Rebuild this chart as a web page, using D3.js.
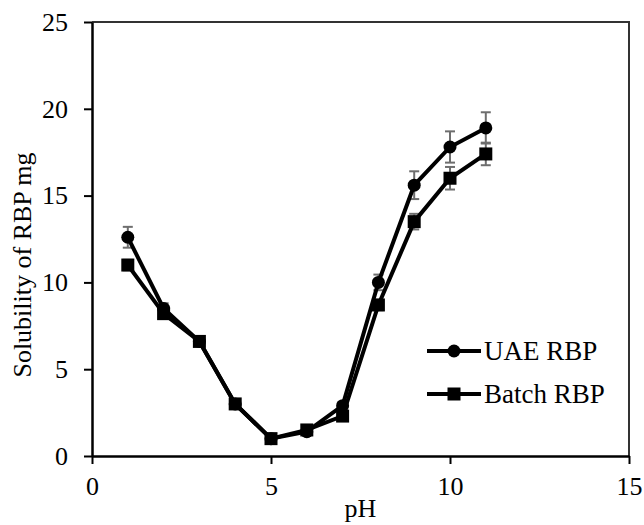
<!DOCTYPE html>
<html>
<head>
<meta charset="utf-8">
<script src="https://cdn.jsdelivr.net/npm/d3@7"></script>
<style>
  body { margin: 0; background: #fff; }
  text { font-family: "Liberation Serif", "Times New Roman", serif; fill: #000; }
</style>
</head>
<body>
<script>
'use strict';
// chart values
var phValues = [1, 2, 3, 4, 5, 6, 7, 8, 9, 10, 11];
var uaeValues = [12.6, 8.5, 6.6, 3.0, 1.0, 1.4, 2.9, 10.0, 15.6, 17.8, 18.9];
var uaeErrors = [0.6, 0.3, 0.15, 0.15, 0.1, 0.1, 0.2, 0.45, 0.8, 0.9, 0.9];
var batchValues = [11.0, 8.2, 6.6, 3.0, 1.0, 1.5, 2.3, 8.7, 13.5, 16.0, 17.4];
var batchErrors = [0.3, 0.2, 0.15, 0.15, 0.1, 0.1, 0.15, 0.3, 0.45, 0.65, 0.65];
var xTicks = [0, 5, 10, 15];
var yTicks = [0, 5, 10, 15, 20, 25];
var seriesNames = ["UAE RBP", "Batch RBP"];

var svg = d3.select("body").append("svg")
    .attr("width", 644)
    .attr("height", 525);

var margin = {top: 22, right: 15, bottom: 69, left: 92},
    width = 644 - margin.left - margin.right,
    height = 525 - margin.top - margin.bottom;

var g = svg.append("g")
    .attr("transform", "translate(" + margin.left + "," + margin.top + ")");

var x = d3.scaleLinear().domain([0, 15]).range([0, width]);
var y = d3.scaleLinear().domain([0, 25]).range([height, 0]);

// frame (top and right)
g.append("path")
    .attr("d", "M0,0H" + width + "V" + height)
    .attr("fill", "none")
    .attr("stroke", "#333")
    .attr("stroke-width", 2);

var xAxis = g.append("g")
    .attr("transform", "translate(0," + height + ")")
    .call(d3.axisBottom(x).tickValues(xTicks).tickSize(8).tickPadding(13).tickSizeOuter(0));
var yAxis = g.append("g")
    .call(d3.axisLeft(y).tickValues(yTicks).tickSize(8).tickPadding(16).tickSizeOuter(0));

[xAxis, yAxis].forEach(function(ax) {
    ax.select(".domain").attr("stroke", "#000").attr("stroke-width", 2.5);
    ax.selectAll(".tick line").attr("stroke", "#000").attr("stroke-width", 2);
    ax.selectAll(".tick text")
        .attr("font-family", "Liberation Serif, Times New Roman, serif")
        .attr("font-size", 26)
        .attr("fill", "#000");
});

// axis titles
g.append("text")
    .attr("x", width / 2)
    .attr("y", height + 61)
    .attr("text-anchor", "middle")
    .attr("font-size", 26)
    .text("pH");

svg.append("text")
    .attr("transform", "translate(31,265) rotate(-90)")
    .attr("text-anchor", "middle")
    .attr("font-size", 26)
    .text("Solubility of RBP mg");

var series = [
    {name: seriesNames[0], values: uaeValues, errors: uaeErrors, shape: "circle"},
    {name: seriesNames[1], values: batchValues, errors: batchErrors, shape: "square"}
];

var line = d3.line()
    .x(function(d) { return x(d.ph); })
    .y(function(d) { return y(d.v); });

// error bars first
series.forEach(function(s) {
    var pts = phValues.map(function(p, i) { return {ph: p, v: s.values[i], e: s.errors[i]}; });
    var eb = g.append("g").attr("stroke", "#6e6e6e").attr("stroke-width", 2);
    eb.selectAll("line.v").data(pts).enter().append("line")
        .attr("x1", function(d) { return x(d.ph); })
        .attr("x2", function(d) { return x(d.ph); })
        .attr("y1", function(d) { return y(d.v + d.e); })
        .attr("y2", function(d) { return y(d.v - d.e); });
    eb.selectAll("line.t").data(pts).enter().append("line")
        .attr("x1", function(d) { return x(d.ph) - 5; })
        .attr("x2", function(d) { return x(d.ph) + 5; })
        .attr("y1", function(d) { return y(d.v + d.e); })
        .attr("y2", function(d) { return y(d.v + d.e); });
    eb.selectAll("line.b").data(pts).enter().append("line")
        .attr("x1", function(d) { return x(d.ph) - 5; })
        .attr("x2", function(d) { return x(d.ph) + 5; })
        .attr("y1", function(d) { return y(d.v - d.e); })
        .attr("y2", function(d) { return y(d.v - d.e); });
});

series.forEach(function(s) {
    var pts = phValues.map(function(p, i) { return {ph: p, v: s.values[i]}; });
    g.append("path")
        .datum(pts)
        .attr("d", line)
        .attr("fill", "none")
        .attr("stroke", "#000")
        .attr("stroke-width", 4);
    if (s.shape === "circle") {
        g.selectAll(null).data(pts).enter().append("circle")
            .attr("cx", function(d) { return x(d.ph); })
            .attr("cy", function(d) { return y(d.v); })
            .attr("r", 6.5)
            .attr("fill", "#000");
    } else {
        g.selectAll(null).data(pts).enter().append("rect")
            .attr("x", function(d) { return x(d.ph) - 6.5; })
            .attr("y", function(d) { return y(d.v) - 6.5; })
            .attr("width", 13)
            .attr("height", 13)
            .attr("fill", "#000");
    }
});

// legend
var legend = svg.append("g").attr("transform", "translate(427,351)");
series.forEach(function(s, i) {
    var row = legend.append("g").attr("transform", "translate(0," + (i * 43) + ")");
    row.append("line")
        .attr("x1", 0).attr("x2", 54)
        .attr("stroke", "#000").attr("stroke-width", 4);
    if (s.shape === "circle") {
        row.append("circle").attr("cx", 27).attr("r", 6.5).attr("fill", "#000");
    } else {
        row.append("rect").attr("x", 20.5).attr("y", -6.5).attr("width", 13).attr("height", 13).attr("fill", "#000");
    }
    row.append("text")
        .attr("x", 57)
        .attr("y", 0)
        .attr("dy", "0.35em")
        .attr("font-size", 27)
        .text(s.name);
});
</script>
</body>
</html>
